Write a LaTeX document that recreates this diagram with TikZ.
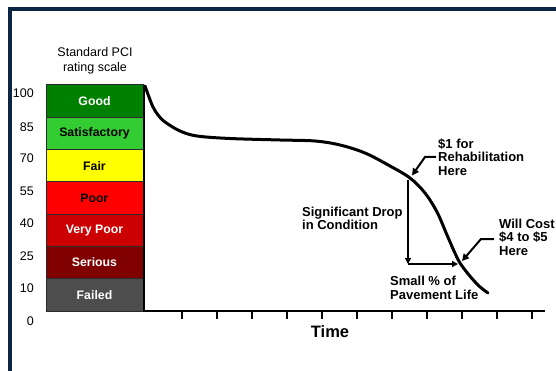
\documentclass[tikz,border=0pt]{standalone}
\usepackage{fontspec}
\setmainfont{Liberation Sans}
\usetikzlibrary{arrows.meta}
\definecolor{framenavy}{HTML}{0B2545}
\definecolor{cgood}{HTML}{008000}
\definecolor{csat}{HTML}{33CC33}
\definecolor{cfair}{HTML}{FFFF00}
\definecolor{cpoor}{HTML}{FF0000}
\definecolor{cvpoor}{HTML}{CC0000}
\definecolor{cserious}{HTML}{800000}
\definecolor{cfailed}{HTML}{4D4D4D}
\definecolor{cborder}{HTML}{2A2A2A}
\begin{document}
\begin{tikzpicture}[x=1pt,y=-1pt,
  scalebox/.style={draw=cborder, line width=0.9pt, minimum width=97pt, minimum height=32.3pt, inner sep=0pt,
    font=\fontsize{12.3}{13}\selectfont\bfseries},
  numlab/.style={anchor=east, inner sep=0pt, font=\fontsize{12.5}{13}\selectfont},
  note/.style={align=left, inner sep=0pt, font=\fontsize{13}{13.5}\selectfont\bfseries},
  axisline/.style={line width=2.6pt, black},
  tickline/.style={line width=1.5pt, black},
  curveline/.style={line width=3pt, black, line join=round, line cap=round},
  arr/.style={line width=1.5pt, -{Triangle[length=6pt,width=6pt]}},
  callout/.style={line width=2pt, -{Triangle[length=7pt,width=7pt]}}
]
\useasboundingbox (0,0) rectangle (556,371);
\fill[white] (0,0) rectangle (556,371);
% frame
\draw[framenavy, line width=4pt] (9.5,380) -- (9.5,9.5) -- (570,9.5);

% title
\node[align=center, inner sep=0pt, font=\fontsize{12.5}{15}\selectfont] (title) at (95,60.5) {Standard PCI\\rating scale};

% scale boxes
\node[scalebox, fill=cgood, text=white] (good) at (94.5,101.1) {Good};
\node[scalebox, fill=csat, text=black] (sat) at (94.5,133.4) {Satisfactory};
\node[scalebox, fill=cfair, text=black] (fair) at (94.5,165.7) {Fair};
\node[scalebox, fill=cpoor, text=black] (poor) at (94.5,198.0) {Poor};
\node[scalebox, fill=cvpoor, text=white] (vpoor) at (94.5,230.3) {Very Poor};
\node[scalebox, fill=cserious, text=white] (serious) at (94.5,262.6) {Serious};
\node[scalebox, fill=cfailed, text=white] (failed) at (94.5,294.9) {Failed};

% numbers
\node[numlab] (n100) at (34,93) {100};
\node[numlab] (n85) at (34,127) {85};
\node[numlab] (n70) at (34,158.5) {70};
\node[numlab] (n55) at (34,191) {55};
\node[numlab] (n40) at (34,223.5) {40};
\node[numlab] (n25) at (34,256.5) {25};
\node[numlab] (n10) at (34,288.5) {10};
\node[numlab] (n0) at (34,321) {0};

% axes
\coordinate (ytop) at (144,85);
\coordinate (orig) at (144,311);
\coordinate (xend) at (545,311);
\draw[axisline] (ytop) -- (orig) -- (xend);
\foreach \i in {0,...,10}{
  \draw[tickline] (182+35*\i,311) -- (182+35*\i,319);
}
\node[font=\fontsize{16.5}{17}\selectfont\bfseries, inner sep=0pt] (time) at (330,332) {Time};

% curve
\coordinate (p1) at (410,178);
\coordinate (p2) at (460,263);
\draw[curveline] plot[smooth, tension=0.55] coordinates {
  (145,86) (149,97) (153,107) (158,115) (165,122) (180,131) (197,136) (230,138.5)
  (280,140) (315,141) (340,145) (365,153) (390,166) (410,178) (425,193)
  (437,212) (447,235) (454,251) (460,263) (469,275) (479,286) (488,293)};

% drop arrows
\coordinate (vtop) at (408,180);
\coordinate (corner) at (408,264);
\coordinate (hend) at (458,264);
\draw[arr] (vtop) -- (corner);
\draw[arr] (corner) -- (hend);

% annotations
\node[note, anchor=west] (rehab) at (438,157) {\$1 for\\Rehabilitation\\Here};
\node[note, anchor=west] (drop) at (302,218.5) {Significant Drop\\in Condition};
\node[note, anchor=west] (cost) at (499,237) {Will Cost\\\$4 to \$5\\Here};
\node[note, anchor=west] (small) at (390,288) {Small \% of\\Pavement Life};

\coordinate (r1) at (436,157);
\coordinate (r2) at (425,157);
\draw[callout] (r1) -- (r2) -- (412,175.5);
\coordinate (c1) at (494,239);
\coordinate (c2) at (481,239);
\draw[callout] (c1) -- (c2) -- (462,261);
\end{tikzpicture}
\end{document}
